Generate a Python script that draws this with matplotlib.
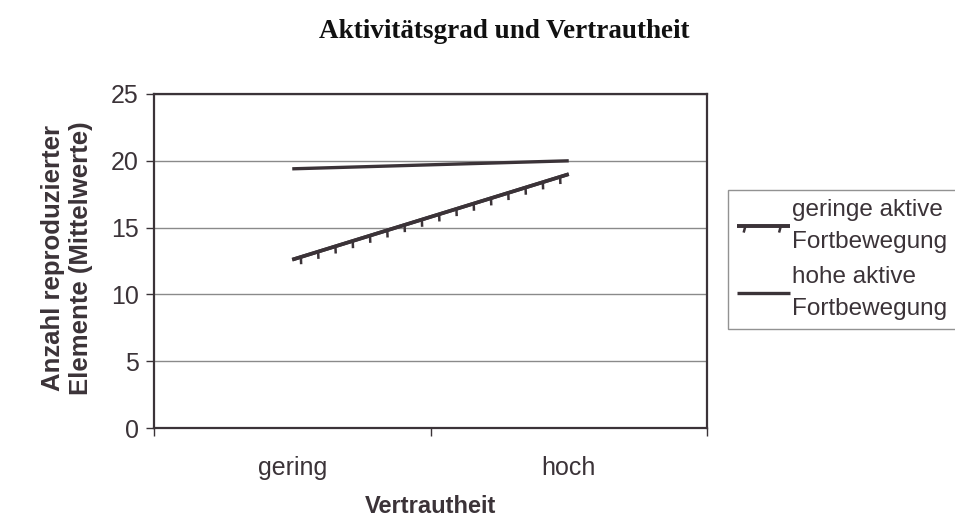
import matplotlib
matplotlib.use('Agg')
import matplotlib.pyplot as plt
import matplotlib.patheffects as pe

# data
categories = ['gering', 'hoch']
geringe_aktiv = [12.6, 19.0]
hohe_aktiv = [19.4, 20.0]
y_ticks = [0, 5, 10, 15, 20, 25]

ink = '#3b3338'
plt.rcParams['font.family'] = ['Liberation Sans', 'DejaVu Sans']

fig = plt.figure(figsize=(9.55, 5.2), dpi=100)
ax = fig.add_axes([154 / 955, 92 / 520, 553 / 955, 334 / 520])

x = list(range(len(categories)))

# line with hanging ticks for the low-activity group
ax.plot(x, geringe_aktiv, color=ink, lw=2.6, solid_capstyle='butt',
        path_effects=[pe.Stroke(), pe.withTickedStroke(angle=-105, spacing=13, length=0.4, linewidth=1.8, foreground=ink)],
        label='geringe aktive\nFortbewegung')
ax.plot(x, hohe_aktiv, color=ink, lw=2.4, solid_capstyle='butt',
        label='hohe aktive\nFortbewegung')

ax.set_xlim(-0.5, 1.5)
ax.set_ylim(0, 25)
ax.set_yticks(y_ticks)
ax.set_xticks(x)
ax.set_xticklabels(categories)
ax.set_xticks([-0.5, 0.5, 1.5], minor=True)
ax.tick_params(axis='x', which='major', length=0, pad=20, labelsize=18, labelcolor=ink)
ax.tick_params(axis='x', which='minor', length=6, width=1, color=ink, direction='out')
ax.tick_params(axis='y', length=6, width=1, color=ink, direction='out', pad=5,
               labelsize=18, labelcolor=ink)

ax.yaxis.grid(True, color='#8a8a8a', lw=1)
ax.set_axisbelow(True)
for s in ax.spines.values():
    s.set_color(ink)
    s.set_linewidth(1.6)

ax.set_xlabel('Vertrautheit', fontsize=17, fontweight='bold', color=ink, labelpad=11)
fig.text(67 / 955, 1 - 258 / 520, 'Anzahl reproduzierter\nElemente (Mittelwerte)',
         rotation=90, ha='center', va='center', fontsize=18.5, fontweight='bold',
         color=ink, linespacing=1.25)

leg = ax.legend(loc='upper left', bbox_to_anchor=(728 / 955, 330 / 520),
                bbox_transform=fig.transFigure, fontsize=17.5, frameon=True,
                fancybox=False, edgecolor='#777777', handlelength=2.2,
                handletextpad=0.1, borderpad=0.35, labelspacing=0.55,
                labelcolor=ink, borderaxespad=0)
leg.get_frame().set_linewidth(1.0)
for t in leg.get_texts():
    t.set_linespacing(1.6)

fig.text(504 / 955, 1 - 31 / 520, 'Aktivitätsgrad und Vertrautheit',
         family=['Liberation Serif', 'DejaVu Serif'], fontweight='bold',
         fontsize=19.5, ha='center', va='center', color='#111111')

fig.savefig('out.png', dpi=100)
